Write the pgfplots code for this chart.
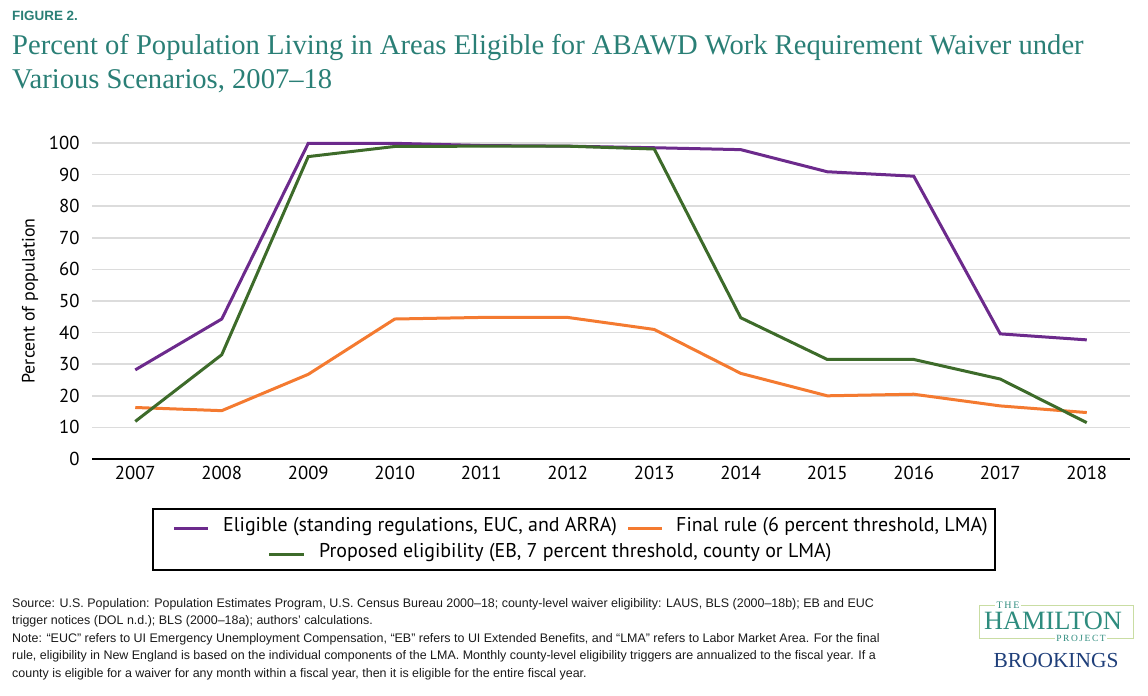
\documentclass[border=0pt]{standalone}
\usepackage{fontspec}
\setmainfont{Liberation Sans}
\newfontfamily\chartfont{PT Sans}
\newfontfamily\titlefont{Liberation Serif}
\usepackage{pgfplots}
\pgfplotsset{compat=1.18}
\definecolor{titleteal}{HTML}{2A7F76}
\definecolor{cpurple}{HTML}{6C2A8C}
\definecolor{cgreen}{HTML}{3D6B2A}
\definecolor{corange}{HTML}{F47A30}
\definecolor{gridgray}{HTML}{DCDCDC}
\definecolor{logogreen}{HTML}{C9DDA3}
\definecolor{logoteal}{HTML}{2E8C7E}
\definecolor{navy}{HTML}{1F3F7A}
\definecolor{foot}{HTML}{1A1A1A}
\begin{document}
\begin{tikzpicture}[x=1bp,y=-1bp]
\useasboundingbox (0,0) rectangle (1148,696);
% titles
\node[anchor=base west,inner sep=0,text=titleteal,font=\bfseries\fontsize{13.5}{16}\selectfont] at (12,21) {FIGURE 2.};
\node[anchor=base west,inner sep=0,text=titleteal,font=\titlefont\fontsize{28.7}{34}\selectfont] at (12,55) {Percent of Population Living in Areas Eligible for ABAWD Work Requirement Waiver under};
\node[anchor=base west,inner sep=0,text=titleteal,font=\titlefont\fontsize{28.7}{34}\selectfont] at (12,89) {Various Scenarios, 2007–18};
\begin{axis}[
  at={(92bp,-459bp)}, anchor=south west,
  scale only axis, width=1038bp, height=316bp,
  xmin=2006.5, xmax=2018.5, ymin=0, ymax=100,
  xtick={2007,2008,...,2018}, ytick={0,10,...,100},
  axis x line*=bottom, axis y line*=left,
  y axis line style={draw=none},
  x axis line style={black,line width=1.5bp,-},
  major tick length=0pt,
  ymajorgrids, grid style={gridgray,line width=1.5bp},
  clip=false,
  /pgf/number format/assume math mode=true,
  /pgf/number format/1000 sep={},
  tick label style={font=\chartfont\fontsize{18.8}{22}\selectfont,text=black},
  yticklabel style={xshift=-9bp},
  xticklabel style={yshift=-4bp},
]
\addplot[cpurple,line width=3bp] coordinates {(2007,28.2)(2008,44.3)(2009,99.9)(2010,99.9)(2011,99.2)(2012,99.0)(2013,98.5)(2014,97.9)(2015,90.9)(2016,89.5)(2017,39.6)(2018,37.7)};
\addplot[corange,line width=3bp] coordinates {(2007,16.3)(2008,15.3)(2009,26.8)(2010,44.3)(2011,44.8)(2012,44.8)(2013,41.0)(2014,27.1)(2015,20.0)(2016,20.5)(2017,16.8)(2018,14.7)};
\addplot[cgreen,line width=3bp] coordinates {(2007,11.9)(2008,33.0)(2009,95.7)(2010,98.9)(2011,99.0)(2012,99.0)(2013,98.1)(2014,44.7)(2015,31.5)(2016,31.5)(2017,25.3)(2018,11.5)};
\end{axis}
\node[rotate=90,font=\chartfont\fontsize{18}{22}\selectfont] at (30,301) {Percent of population};
% legend
\draw[black,line width=1.2bp] (153,509) rectangle (995,570);
\begin{scope}[every node/.style={anchor=west,inner sep=0,font=\chartfont\fontsize{20}{23}\selectfont}]
\draw[cpurple,line width=3bp] (174,528) -- (208,528);
\node at (223,527) {Eligible (standing regulations, EUC, and ARRA)};
\draw[corange,line width=3bp] (628,528) -- (662,528);
\node at (676,527) {Final rule (6 percent threshold, LMA)};
\draw[cgreen,line width=3bp] (269,554) -- (304,554);
\node at (319,553) {Proposed eligibility (EB, 7 percent threshold, county or LMA)};
\end{scope}
% footer
\begin{scope}[every node/.style={anchor=base west,inner sep=0,text=foot,font=\fontsize{12.5}{14}\selectfont}]
\node at (12,607) {Source: U.S. Population: Population Estimates Program, U.S. Census Bureau 2000–18; county-level waiver eligibility: LAUS, BLS (2000–18b); EB and EUC};
\node at (12,624.5) {trigger notices (DOL n.d.); BLS (2000–18a); authors’ calculations.};
\node at (12,642) {Note: “EUC” refers to UI Emergency Unemployment Compensation, “EB” refers to UI Extended Benefits, and “LMA” refers to Labor Market Area. For the final};
\node at (12,659.5) {rule, eligibility in New England is based on the individual components of the LMA. Monthly county-level eligibility triggers are annualized to the fiscal year. If a};
\node at (12,677) {county is eligible for a waiver for any month within a fiscal year, then it is eligible for the entire fiscal year.};
\end{scope}
% logo
\draw[logogreen,line width=1bp] (979,605) rectangle (1133,638);
\node[fill=white,inner sep=1.5bp,text=logoteal,font=\titlefont\fontsize{10}{11}\selectfont] at (1008,605) {T\,H\,E};
\node[inner sep=0,text=logoteal,font=\titlefont\fontsize{26.5}{30}\selectfont] at (1053,621) {HAMILTON};
\node[fill=white,inner sep=1.5bp,text=logoteal,font=\titlefont\fontsize{9.5}{11}\selectfont] at (1081,638) {P\,R\,O\,J\,E\,C\,T};
\node[inner sep=0,text=navy,font=\titlefont\fontsize{21.5}{25}\selectfont] at (1056,661) {BROOKINGS};
\end{tikzpicture}
\end{document}
